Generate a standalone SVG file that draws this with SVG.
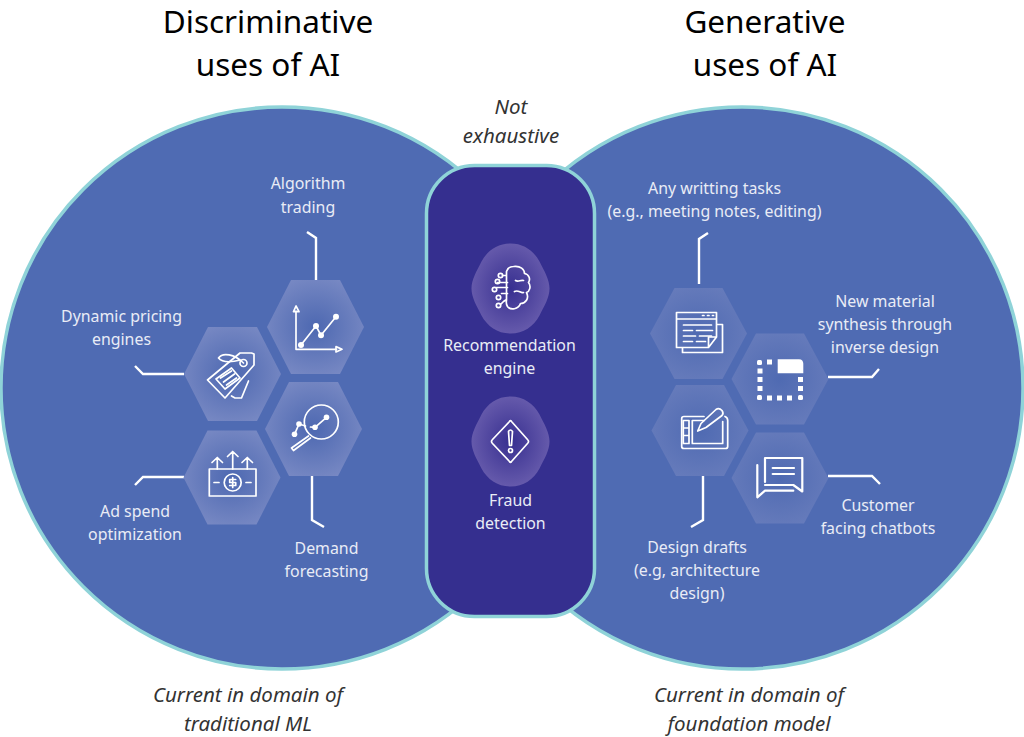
<svg xmlns="http://www.w3.org/2000/svg" width="1024" height="737" viewBox="0 0 1024 737">
<style>
text{font-family:"Noto Sans","Open Sans",sans-serif;text-anchor:middle}
.title{font-size:31.500px;fill:#000}
.note{font-size:20.500px;font-style:italic;fill:#333}
.lab{font-size:15.900px;fill:#e9ecf6}
.conn{fill:none;stroke:#fff;stroke-width:2.400}
.ic{fill:none;stroke:#fff;stroke-width:1.700;stroke-linejoin:round;stroke-linecap:round}
.icf{fill:#fff;stroke:none}
.big{fill:#4f6bb3;stroke:#8fd3d8;stroke-width:3.500}
</style>
<defs>
<radialGradient id="hexfill" cx="50%" cy="50%" r="55%"><stop offset="0" stop-color="#4d68b1"/><stop offset="1" stop-color="#7788c3"/></radialGradient>
<radialGradient id="hexfill2" cx="50%" cy="50%" r="55%"><stop offset="0" stop-color="#4f6ab2"/><stop offset="1" stop-color="#667bbb"/></radialGradient>
<radialGradient id="blobfill" cx="50%" cy="50%" r="55%"><stop offset="0" stop-color="#372f90"/><stop offset="1" stop-color="#6a5eae"/></radialGradient>
<polygon id="hex" points="-48.5,0 -24.5,-47 24.5,-47 48.5,0 24.5,47 -24.5,47"/>
<polygon id="hexr" points="-48.5,0 -24,-45.5 24,-45.5 48.5,0 24,45.5 -24,45.5"/>
<path id="blob" d="M0,-45C13,-45 23,-38 29,-27C34,-17 39,-9 39,0C39,9 34,17 29,27C23,38 13,45 0,45C-13,45 -23,38 -29,27C-34,17 -39,9 -39,0C-39,-9 -34,-17 -29,-27C-23,-38 -13,-45 0,-45Z"/>
</defs>

<g id="circle-left"><circle class="big" cx="282" cy="388" r="281"/></g>
<g id="circle-right"><circle class="big" cx="742" cy="388" r="281"/></g>
<g id="center-panel"><rect x="426.500" y="165.500" width="168" height="451" rx="48" fill="#352f8f" stroke="#8fd3d8" stroke-width="3.500"/></g>

<g id="connectors" class="conn">
<path d="M316,280V238L307,232"/>
<path d="M184,374H143L135,366"/>
<path d="M184,477H143L135,485"/>
<path d="M312,476V520L324,527"/>
<path d="M699,284V239L708,233"/>
<path d="M828,377H872L879,369"/>
<path d="M703,476V520L691,527"/>
<path d="M828,476H872L880,484"/>
</g>

<g id="titles">
<text class="title" x="268" y="33">Discriminative</text>
<text class="title" x="268" y="76">uses of AI</text>
<text class="title" x="765" y="33">Generative</text>
<text class="title" x="765" y="76">uses of AI</text>
<text class="note" x="511" y="114">Not</text>
<text class="note" x="511" y="143">exhaustive</text>
<text class="note" x="248" y="702">Current in domain of</text>
<text class="note" x="248" y="731">traditional ML</text>
<text class="note" x="749" y="702">Current in domain of</text>
<text class="note" x="749" y="731">foundation model</text>
</g>

<g id="node-algorithm-trading" transform="translate(315.500,327)"><use href="#hex" fill="url(#hexfill)"/>
<path class="ic" d="M-19.500,-16V22.300H21M-19.500,-21L-22,-15.300H-16.500ZM26.500,22.300L20.500,19.600V25ZM-14.500,18L.5,-1L5.500,8.300L20.500,-10.300"/>
<circle class="icf" cx="-14.500" cy="18" r="3"/><circle class="icf" cx=".5" cy="-1" r="3"/><circle class="icf" cx="5.500" cy="8.300" r="3"/><circle class="icf" cx="20.500" cy="-10.300" r="3"/>
<text class="lab" x="-7.500" y="-138">Algorithm</text><text class="lab" x="-7.500" y="-114">trading</text></g>

<g id="node-dynamic-pricing" transform="translate(232.500,374)"><use href="#hex" fill="url(#hexfill)"/>
<path class="ic" d="M-25,6L-7.500,24L21.500,-9V-20L19,-21H7.500Z"/>
<path class="ic" d="M-1,22L2.500,24L9,24L16,7"/>
<path class="ic" d="M-16.500,5L-1,-6L7.500,4L-7.500,15Z"/><path class="ic" d="M-12,4L-1,-3M-9,8L2,0M-6,11L4,4"/>
<circle class="ic" cx="11" cy="-11" r="3.500"/><path class="ic" d="M11,-11C2,-20 -10,-22 -14,-16C-10,-11 0,-12 8,-14"/>
<text class="lab" x="-111" y="-52">Dynamic pricing</text><text class="lab" x="-111" y="-29">engines</text></g>

<g id="node-demand-forecasting" transform="translate(313.500,429)"><use href="#hex" fill="url(#hexfill)"/>
<circle class="ic" cx="7.800" cy="-7" r="17"/>
<path class="ic" d="M-5,7L-22,19L-20,21.500L-3,9"/>
<path class="ic" d="M-19,5.300L-14.500,-5L-8,-3M-3,-2L1.500,-1.700L13,-11.700"/>
<circle class="icf" cx="-19" cy="5.300" r="2.800"/><circle class="icf" cx="-14.500" cy="-5" r="2.800"/><circle class="icf" cx="1.500" cy="-1.700" r="2.800"/><circle class="icf" cx="13" cy="-11.700" r="2.800"/>
<text class="lab" x="13" y="125">Demand</text><text class="lab" x="13" y="148">forecasting</text></g>

<g id="node-ad-spend" transform="translate(232,477.500)"><use href="#hex" fill="url(#hexfill)"/>
<rect class="ic" x="-22.700" y="-8.500" width="46.700" height="27"/>
<circle class="ic" cx=".7" cy="5" r="8.500"/>
<path class="ic" d="M-18,5H-13M14,5H19M3.700,2H-2.300V5H3.700V8H-2.300M.7,0V10"/>
<path class="ic" d="M-14.700,-8.500V-20M-20,-15L-14.700,-20L-9.500,-15M.7,-8.500V-26M-4.500,-21L.7,-26L6,-21M15.300,-8.500V-20M10,-15L15.300,-20L20.500,-15"/>
<text class="lab" x="-97" y="39">Ad spend</text><text class="lab" x="-97" y="62">optimization</text></g>

<g id="node-recommendation" transform="translate(510.500,288.500)"><use href="#blob" fill="url(#blobfill)"/>
<path class="ic" d="M3,-22C10,-23 14,-19 14,-15C19,-14 20,-9 18,-6C21,-2 19,3 16,4C19,10 15,15 10,15C8,21 0,22 -3,18C-5,15 -4,13 -4,11V-17C-3,-20 0,-22 3,-22ZM-3,-6H-13M-3,-1H-14M-3,5H-9M-4,-13H-8M-4,11L-7,13L-10,16M5,-8C8,-6 10,-9 13,-8M4,3C8,1 10,5 13,4"/>
<circle class="ic" cx="-10" cy="-13" r="2.200"/><circle class="ic" cx="-13" cy="-7" r="2.200"/><circle class="ic" cx="-16" cy="1" r="2.200"/><circle class="ic" cx="-12" cy="9" r="2.200"/><circle class="ic" cx="-12" cy="17" r="2.200"/>
<text class="lab" x="-1" y="62">Recommendation</text><text class="lab" x="-1" y="85.500">engine</text></g>

<g id="node-fraud" transform="translate(510.500,441.500)"><use href="#blob" fill="url(#blobfill)"/>
<path class="ic" d="M1,-20L17,-2Q19,0 17,2L1,20Q0,22 -1,20L-18,2Q-20,0 -18,-2L-1,-20Q0,-22 1,-20Z"/>
<path class="ic" d="M-2,-10Q0,-13 2,-10L1,4H-1Z"/><circle class="ic" cx="0" cy="9" r="2"/>
<text class="lab" x="0" y="64.500">Fraud</text><text class="lab" x="0" y="87">detection</text></g>

<g id="node-writing" transform="translate(698.500,333.500)"><use href="#hexr" fill="url(#hexfill2)"/>
<path class="ic" d="M-22,-21H18V3.500L10,14H-22ZM-22,-14.500H18M10,14V3.500H18M18,-9H24V19H-16V14"/>
<path class="ic" d="M-15,-8.500H13M-15,-3H-6M-2,-3H14M-15,2.500H-3M1,2.500H13M-15,8H-6M-2,8H7"/>
<path class="ic" stroke-dasharray="1.500 3.500" d="M4,-18H15"/>
<text class="lab" x="16" y="-140">Any writting tasks</text><text class="lab" x="16" y="-117">(e.g., meeting notes, editing)</text></g>

<g id="node-material" transform="translate(780,379)"><use href="#hexr" fill="url(#hexfill2)"/>
<path class="icf" d="M-2.300,-5.700V-19.700H19Q23.300,-19.700 23.300,-15V-5.700Z"/>
<g class="icf"><rect x="-23" y="-19" width="5" height="5" rx="1.500"/><rect x="-13" y="-19.500" width="5" height="5"/><rect x="-22.500" y="-10.500" width="5" height="5"/><rect x="-22.500" y="-2" width="5" height="5"/><rect x="-22.500" y="7" width="5" height="5"/><rect x="-23" y="16" width="5" height="5" rx="1.500"/><rect x="-13" y="16.500" width="5" height="5"/><rect x="-3" y="16.500" width="5" height="5"/><rect x="7" y="16.500" width="5" height="5"/><rect x="18" y="16" width="5" height="5" rx="1.500"/><rect x="18" y="-2" width="5" height="5"/><rect x="18" y="7" width="5" height="5"/></g>
<text class="lab" x="105" y="-72">New material</text><text class="lab" x="105" y="-49">synthesis through</text><text class="lab" x="105" y="-26">inverse design</text></g>

<g id="node-design" transform="translate(700,430.500)"><use href="#hexr" fill="url(#hexfill2)"/>
<path class="ic" d="M4,-14H-16Q-18.300,-14 -18.300,-12V16Q-18.300,18 -16,18H25.500Q27.700,18 27.700,16V-10Q27.700,-13 25,-14"/>
<path class="ic" d="M4,-10H-7.700V13H22.700V-9M-16.700,-10H-11V13H-16.700ZM-16.700,-2.500H-11M-16.700,5H-11"/>
<path class="ic" d="M-2.300,.5L1,-7L16,-21Q19,-23 22,-20Q24,-17 22,-15L6,-3Z"/>
<text class="lab" x="-3" y="122">Design drafts</text><text class="lab" x="-3" y="145">(e.g, architecture</text><text class="lab" x="-3" y="168">design)</text></g>

<g id="node-chatbots" transform="translate(780,478)"><use href="#hexr" fill="url(#hexfill2)"/>
<path class="ic" style="stroke-width:2.200" d="M-15,4V-20H22.300V13.500L13.300,7H-15M-22.700,-13V19.300L-15,12.700H13.300"/>
<path class="ic" style="stroke-width:2.200" d="M-7.300,-10H14M-7.300,-4H14"/>
<text class="lab" x="98" y="33">Customer</text><text class="lab" x="98" y="56">facing chatbots</text></g>
</svg>
